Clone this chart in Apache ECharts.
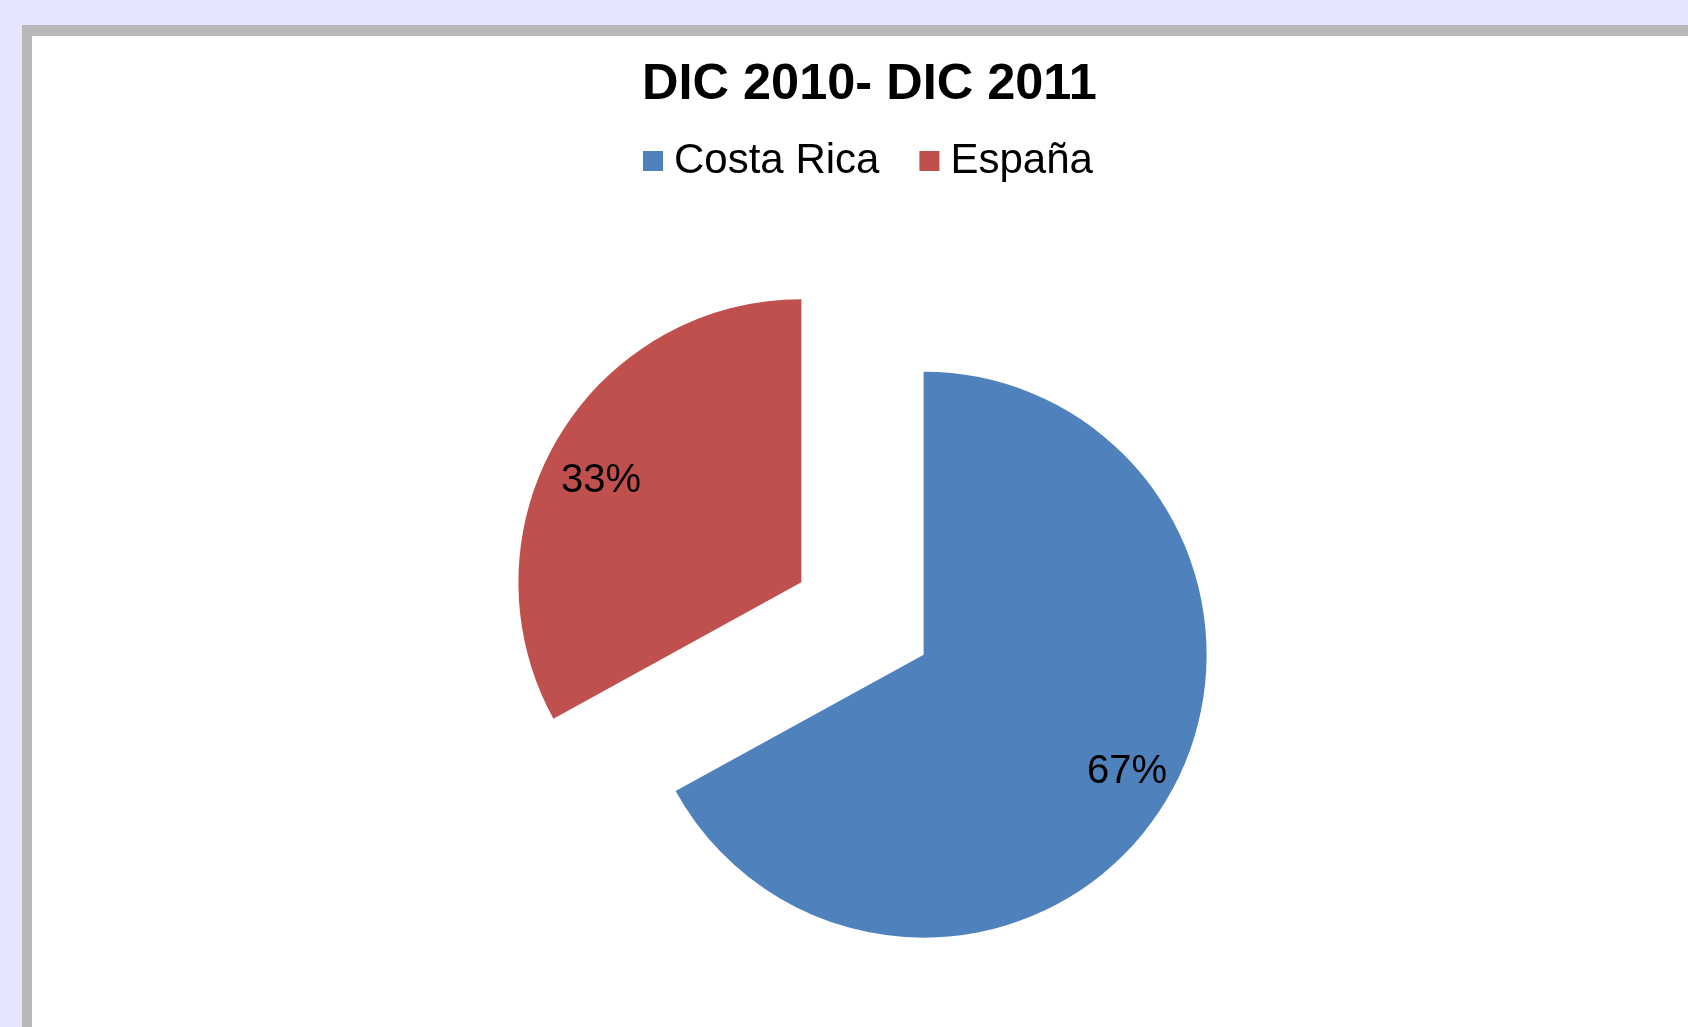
<!DOCTYPE html>
<html>
<head>
<meta charset="utf-8">
<script src="https://cdn.jsdelivr.net/npm/echarts@6/dist/echarts.min.js"></script>
<style>
  html, body { margin: 0; padding: 0; width: 1688px; height: 1027px; overflow: hidden; background: #E5E5FF; }
  #frame { position: absolute; left: 22px; top: 25px; width: 1700px; height: 1100px; background: #B8B8B8; }
  #panel { position: absolute; left: 32px; top: 36px; width: 1700px; height: 1100px; background: #FFFFFF; }
  #chart { position: absolute; left: 0; top: 0; width: 1688px; height: 1027px; }
</style>
</head>
<body>
<div id="frame"></div>
<div id="panel"></div>
<div id="chart"></div>
<script>
const titleText = 'DIC 2010- DIC 2011';
const categories = ['Costa Rica', 'España'];
const values = [67, 33];
const colors = ['#4F81BD', '#C0504D'];
// horizontal label padding [top, right, bottom, left] and blank spacer line (above / below) to push labels outward
const labelPaddings = [[0, 0, 0, 158], [0, 152, 0, 0]];
const spacerAbove = [true, false];
const spacerHeights = [88, 56];

const chart = echarts.init(document.getElementById('chart'), null, { renderer: 'canvas' });
const fontFamily = '"Liberation Sans", Arial, sans-serif';

chart.setOption({
  backgroundColor: 'transparent',
  animation: false,
  title: {
    text: titleText,
    left: 642,
    top: 60,
    padding: 0,
    textStyle: { fontFamily: fontFamily, fontSize: 50.5, fontWeight: 'bold', color: '#000000' }
  },
  legend: {
    data: categories,
    left: 643,
    top: 140,
    padding: 0,
    itemWidth: 20,
    itemHeight: 20,
    itemGap: 40,
    icon: 'rect',
    selectedMode: false,
    textStyle: { fontFamily: fontFamily, fontSize: 42, color: '#000000', padding: [0, 0, 0, 6] }
  },
  series: [{
    type: 'pie',
    center: [862.5, 618.5],
    radius: 283,
    startAngle: 90,
    clockwise: true,
    selectedMode: 'multiple',
    selectedOffset: 71,
    avoidLabelOverlap: false,
    emphasis: { disabled: true },
    labelLine: { show: false },
    label: {
      show: true,
      position: 'inside',
      fontFamily: fontFamily,
      fontSize: 40,
      color: '#000000'
    },
    data: categories.map(function (name, i) {
      return {
        name: name,
        value: values[i],
        selected: true,
        itemStyle: { color: colors[i] },
        label: {
          padding: labelPaddings[i],
          formatter: function (p) {
            const t = '{v|' + Math.round(p.percent) + '%}';
            return spacerAbove[i] ? '{g| }\n' + t : t + '\n{g| }';
          },
          rich: {
            v: { fontFamily: fontFamily, fontSize: 40, lineHeight: 40, color: '#000000' },
            g: { fontSize: 10, height: spacerHeights[i], lineHeight: spacerHeights[i] }
          }
        }
      };
    })
  }]
});
</script>
</body>
</html>
